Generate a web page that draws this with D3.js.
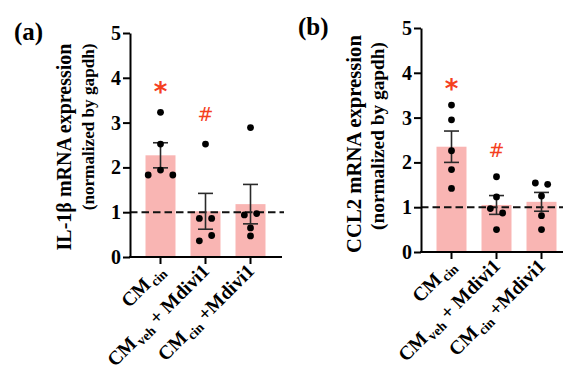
<!DOCTYPE html>
<meta charset="utf-8">
<style>
body { margin: 0; background: #fff; }
svg text { font-family: "Liberation Serif", "Times New Roman", serif; font-weight: bold; }
</style>
<svg width="563" height="372" id="chart"></svg>
<script src="https://cdn.jsdelivr.net/npm/d3@7"></script>
<script>
// groups and their x labels (main text + subscript + tail)
var groups = ["CMcin", "CMveh+Mdivi1", "CMcin+Mdivi1"];
var labelMain = ["CM", "CM", "CM"];
var labelSub = ["cin", "veh", "cin"];
var labelTail = ["", " + Mdivi1", " +Mdivi1"];
var yTicks = [0, 1, 2, 3, 4, 5];

// (a) IL-1b
var ilMeans = [2.27, 1.02, 1.18];
var ilSem = [0.28, 0.40, 0.44];
var ilPoints = [[3.23, 2.52, 1.83, 1.94, 1.83],
                [2.52, 0.86, 0.86, 0.36, 0.48],
                [2.89, 0.94, 0.97, 0.65, 0.47]];
var ilSigns = ["*", "#", ""];
var ilSignAt = [3.72, 3.18, 0];

// (b) CCL2
var ccMeans = [2.35, 1.05, 1.12];
var ccSem = [0.35, 0.21, 0.21];
var ccPoints = [[3.28, 2.95, 2.26, 1.84, 1.42],
                [1.68, 1.23, 0.97, 0.87, 0.50],
                [1.54, 1.51, 1.25, 0.81, 0.50]];
var ccSigns = ["*", "#", ""];
var ccSignAt = [3.69, 2.28, 0];

var svg = d3.select("#chart");
var h = 224, w = 152;

function fitSize(sel, target) {
  var len = sel.node().getComputedTextLength();
  var fs = +sel.attr("font-size");
  sel.attr("font-size", fs * target / len);
  return fs * target / len;
}

function drawPanel(p) {
  var g = svg.append("g").attr("transform", `translate(${p.left},${p.top})`);

  var y = d3.scaleLinear().domain([0, 5]).range([h, 0]);
  var x = d3.scaleBand().domain(groups).range([8, 143])
      .paddingInner(1 / 3).paddingOuter(1 / 6);

  // bars
  g.append("g").attr("fill", "#f9b5b3")
    .selectAll("rect")
    .data(p.means)
    .enter().append("rect")
      .attr("x", (d, i) => x(groups[i]))
      .attr("width", x.bandwidth())
      .attr("y", d => y(d))
      .attr("height", d => y(0) - y(d));

  // reference line at 1
  g.append("line")
    .attr("x1", 0).attr("x2", w + 2)
    .attr("y1", y(1)).attr("y2", y(1))
    .attr("stroke", "#111").attr("stroke-width", 2)
    .attr("stroke-dasharray", "7.5,4");

  // error bars
  var eb = g.append("g").attr("stroke", "#2a2a2a").attr("stroke-width", 1.6)
    .selectAll("g").data(p.means).enter().append("g");
  eb.append("line")
    .attr("x1", (d, i) => x(groups[i]) + x.bandwidth() / 2)
    .attr("x2", (d, i) => x(groups[i]) + x.bandwidth() / 2)
    .attr("y1", (d, i) => y(d - p.sem[i]))
    .attr("y2", (d, i) => y(d + p.sem[i]));
  [-1, 1].forEach(function(s) {
    eb.append("line")
      .attr("x1", (d, i) => x(groups[i]) + x.bandwidth() / 2 - 7.5)
      .attr("x2", (d, i) => x(groups[i]) + x.bandwidth() / 2 + 7.5)
      .attr("y1", (d, i) => y(d + s * p.sem[i]))
      .attr("y2", (d, i) => y(d + s * p.sem[i]));
  });

  // dots, spread sideways when they overlap
  var dots = [];
  p.points.forEach(function(vals, i) {
    var cx = x(groups[i]) + x.bandwidth() / 2;
    var order = vals.map((v, k) => k).sort((a, b) => vals[b] - vals[a]);
    var clusters = [];
    order.forEach(function(k) {
      var last = clusters[clusters.length - 1];
      if (last && Math.abs(y(vals[last[last.length - 1]]) - y(vals[k])) < 7) last.push(k);
      else clusters.push([k]);
    });
    clusters.forEach(function(c) {
      c.sort((a, b) => a - b);
      c.forEach(function(k, j) {
        dots.push({cx: cx + (j - (c.length - 1) / 2) * 12.3, v: vals[k]});
      });
    });
  });
  g.append("g").selectAll("circle").data(dots).enter().append("circle")
    .attr("cx", d => d.cx).attr("cy", d => y(d.v)).attr("r", 3.4).attr("fill", "#000");

  // significance marks
  g.append("g").selectAll("text").data(p.signs).enter().append("text")
    .attr("x", (d, i) => x(groups[i]) + x.bandwidth() / 2)
    .attr("y", (d, i) => y(p.signAt[i]))
    .attr("text-anchor", "middle")
    .attr("dy", (d) => d == "*" ? "0.42em" : "0.36em")
    .attr("fill", "#f5401e")
    .attr("font-size", d => d == "*" ? 26 : 19)
    .style("font-family", "'DejaVu Sans', sans-serif")
    .style("font-weight", d => d == "*" ? "bold" : "normal")
    .text(d => d);

  // y axis
  g.append("g")
    .call(d3.axisLeft(y).tickValues(yTicks).tickFormat(d3.format("d"))
      .tickSize(7).tickSizeOuter(0).tickPadding(2))
    .call(a => a.attr("font-family", null).attr("font-size", 20))
    .call(a => a.selectAll("text").attr("fill", "#000"))
    .call(a => a.selectAll("path, line").attr("stroke", "#000").attr("stroke-width", 2));

  // x axis
  var xa = g.append("g").attr("transform", `translate(0,${h})`)
    .call(d3.axisBottom(x).tickSize(7).tickSizeOuter(0).tickFormat(""))
    .call(a => a.select(".domain").remove())
    .call(a => a.selectAll("line").attr("stroke", "#000").attr("stroke-width", 2));
  xa.append("line").attr("x1", -1).attr("x2", w)
    .attr("stroke", "#000").attr("stroke-width", 2);

  var lab = g.append("g").selectAll("text").data(groups).enter().append("text")
    .attr("transform", d => `translate(${x(d) + x.bandwidth() / 2 + 5},${h + 15}) rotate(-45)`)
    .attr("text-anchor", "end")
    .attr("font-size", 19.5)
    .attr("fill", "#000");
  lab.append("tspan").text((d, i) => labelMain[i]);
  lab.append("tspan").attr("font-size", 13.5).attr("dy", 4).attr("dx", 2).text((d, i) => labelSub[i]);
  lab.append("tspan").attr("dy", -4).text((d, i) => labelTail[i]);

  // y title, two lines
  var t1 = g.append("text")
    .attr("transform", `translate(${-p.titleGap},${h / 2 + p.titleShift}) rotate(-90)`)
    .attr("text-anchor", "middle").attr("font-size", 18).attr("fill", "#000")
    .text(p.title);
  fitSize(t1, p.len1);
  var t2 = g.append("text")
    .attr("transform", `translate(${-p.titleGap + p.lineGap},${h / 2 + p.titleShift - p.len1 / 2 + p.end2}) rotate(-90)`)
    .attr("text-anchor", "end").attr("font-size", 18).attr("fill", "#000")
    .text("(normalized by gapdh)");
  fitSize(t2, p.len2);

  // panel letter
  svg.append("text").attr("x", p.left - p.letterGap).attr("y", p.top + 7)
    .attr("font-size", 25).attr("fill", "#000").text(p.letter);
}

drawPanel({left: 130, top: 33, means: ilMeans, sem: ilSem, points: ilPoints,
  signs: ilSigns, signAt: ilSignAt, title: "IL-1\u03b2 mRNA expression",
  len1: 207, len2: 167, titleGap: 59, lineGap: 23, titleShift: 2, end2: 0,
  letter: "(a)", letterGap: 116});
drawPanel({left: 421, top: 28, means: ccMeans, sem: ccSem, points: ccPoints,
  signs: ccSigns, signAt: ccSignAt, title: "CCL2 mRNA expression",
  len1: 218, len2: 188, titleGap: 60, lineGap: 23, titleShift: 4, end2: 7,
  letter: "(b)", letterGap: 123});
</script>
